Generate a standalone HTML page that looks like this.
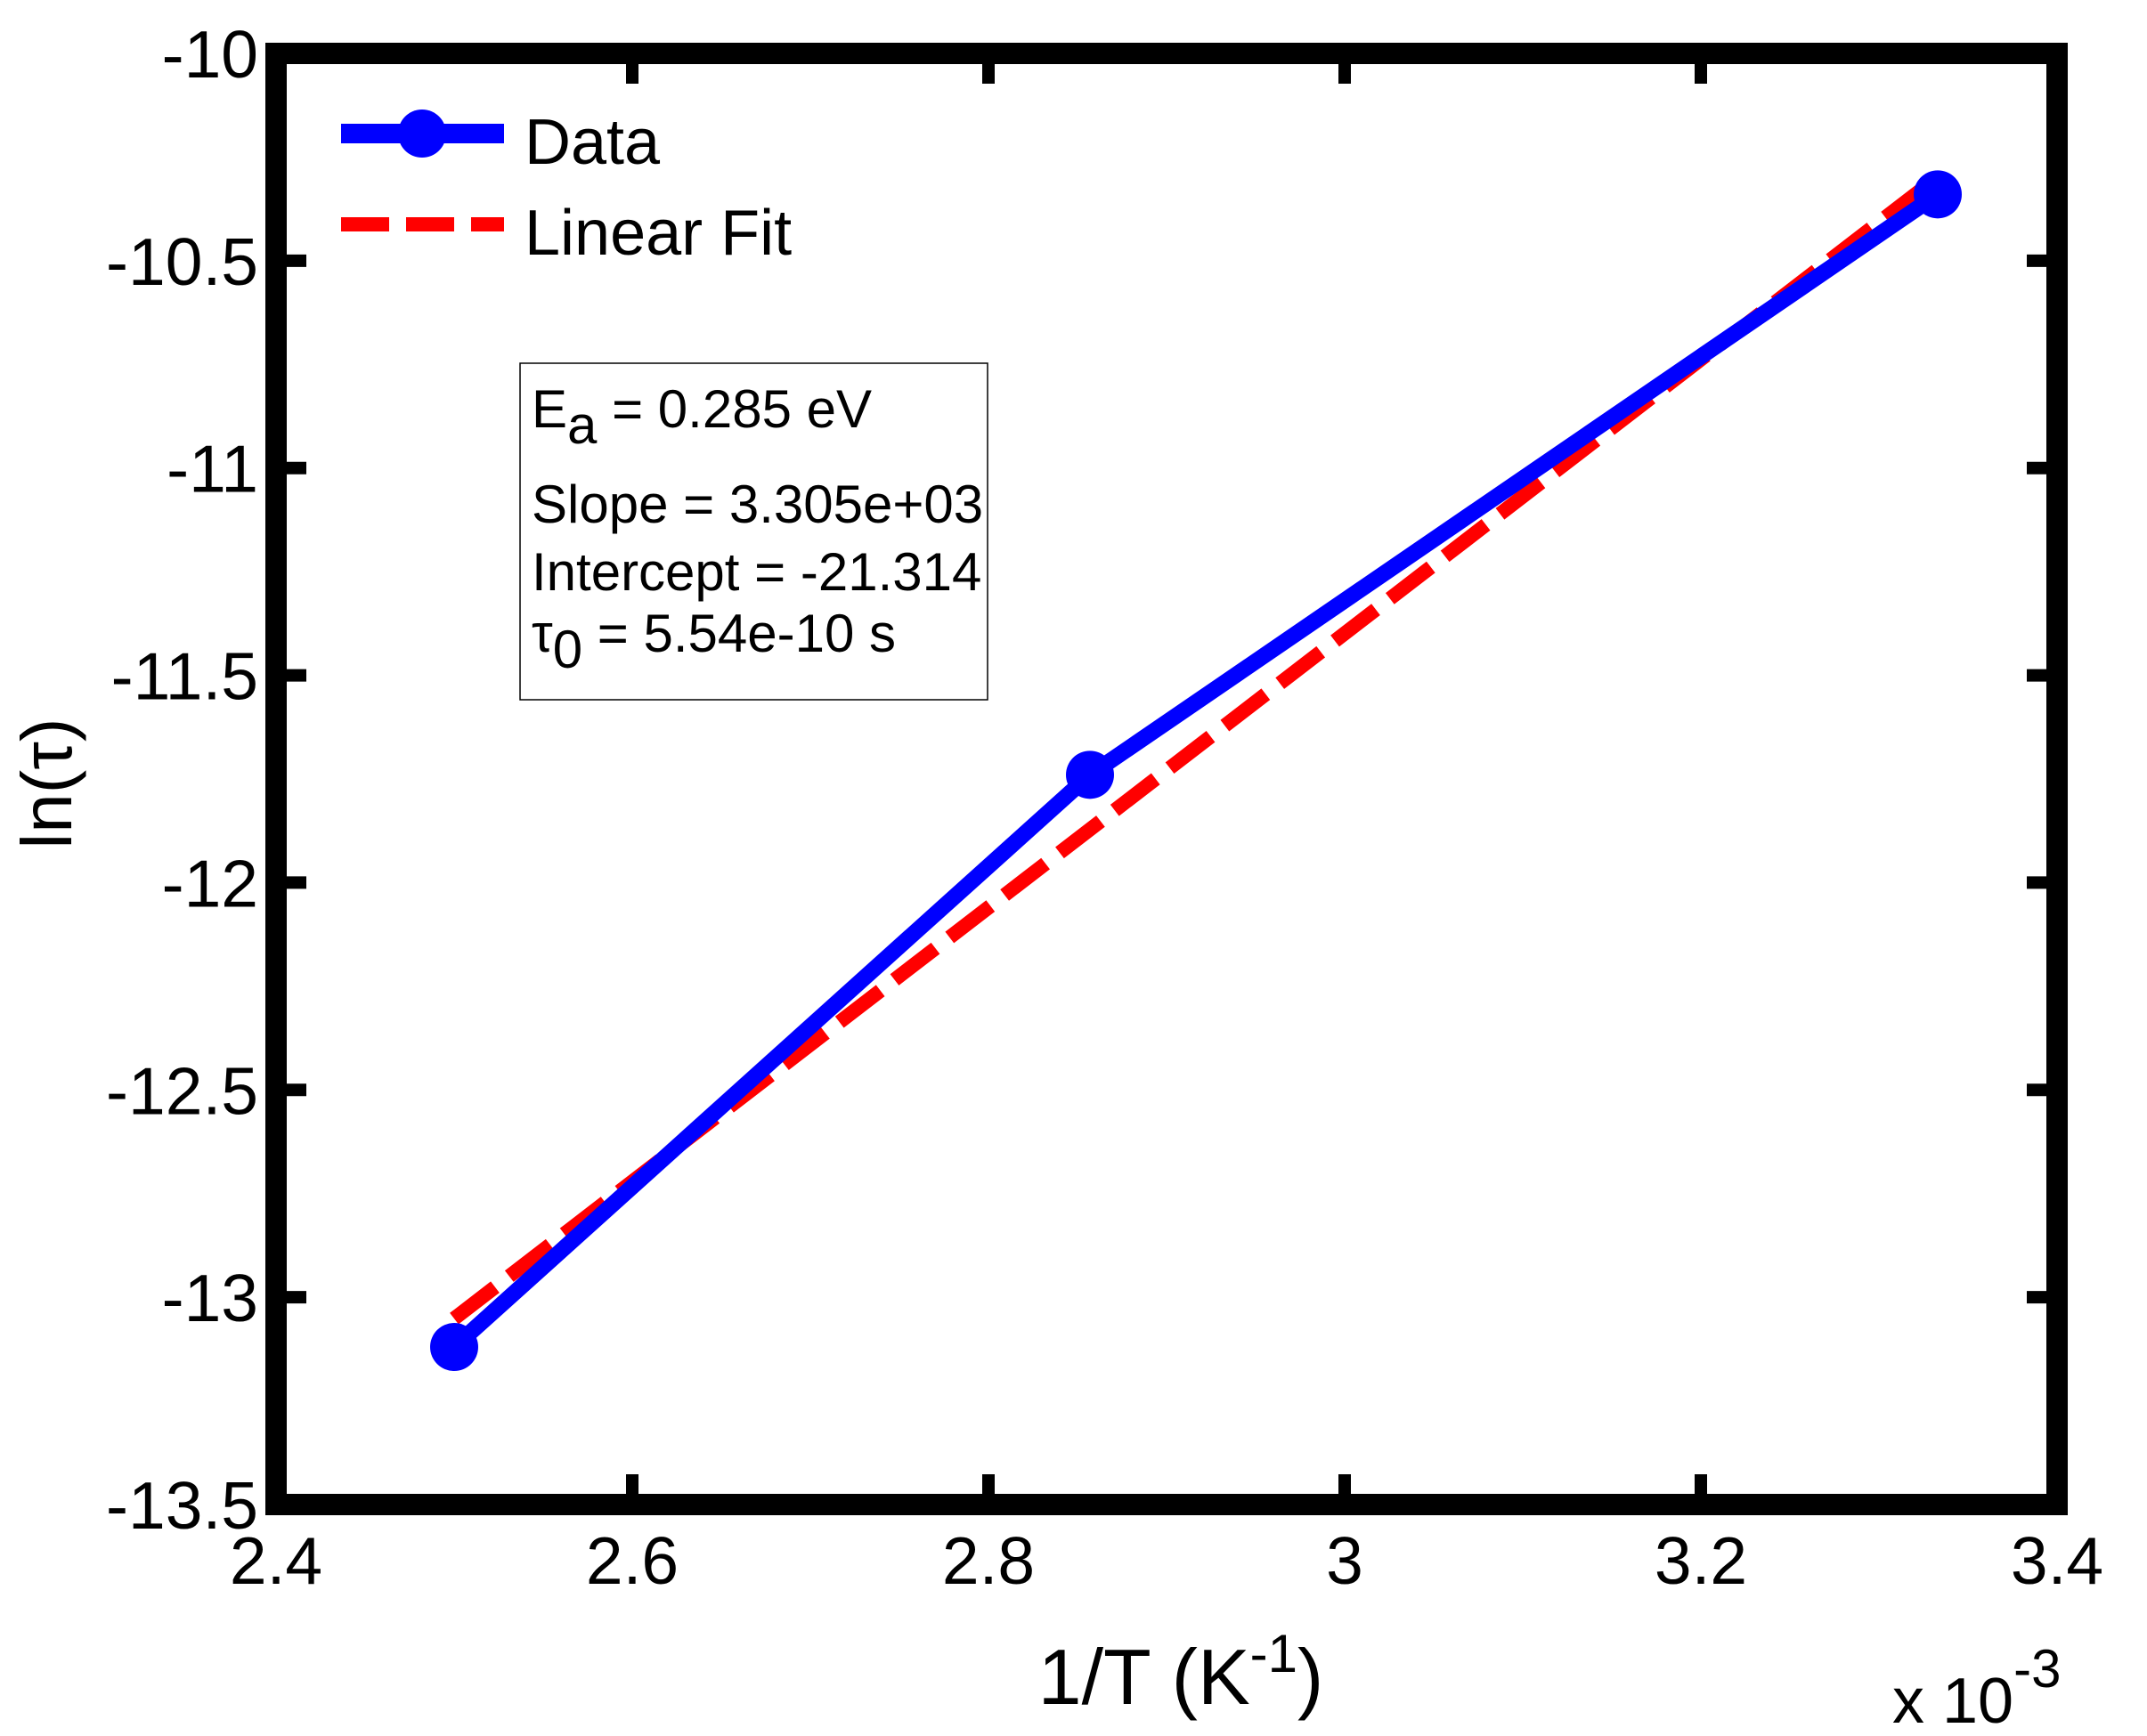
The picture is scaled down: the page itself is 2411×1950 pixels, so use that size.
<!DOCTYPE html>
<html><head><meta charset="utf-8"><style>
html,body{margin:0;padding:0;background:#fff;}
svg{display:block;font-family:"Liberation Sans",Arial,sans-serif;}
</style></head><body>
<svg id="chart" width="2411" height="1950" viewBox="0 0 2411 1950" xmlns="http://www.w3.org/2000/svg">
<rect width="2411" height="1950" fill="#fff"/>
<g id="plot"></g>
<g id="axes"></g>
<g>
  <line x1="383" y1="150" x2="566" y2="150" stroke="#0000ff" stroke-width="22"/>
  <circle cx="474" cy="150" r="27" fill="#0000ff"/>
  <text x="589" y="184" font-size="72">Data</text>
  <line x1="383" y1="252" x2="566" y2="252" stroke="#ff0000" stroke-width="16" stroke-dasharray="54,19"/>
  <text x="589" y="286" font-size="72">Linear Fit</text>
</g>
<g>
  <rect x="584" y="408" width="525" height="378" fill="#fff" stroke="#000" stroke-width="1.5"/>
  <text x="597" y="480" font-size="60">E<tspan dy="18">a</tspan><tspan dy="-18"> = 0.285 eV</tspan></text>
  <text x="597" y="587" font-size="60">Slope = 3.305e+03</text>
  <text x="597" y="663" font-size="60">Intercept = -21.314</text>
  <text x="597" y="732" font-size="60">τ<tspan dy="18">0</tspan><tspan dy="-18"> = 5.54e-10 s</tspan></text>
</g>
<text x="1326" y="1914" font-size="88" text-anchor="middle">1/T (K<tspan dy="-36" font-size="60">-1</tspan><tspan dy="36">)</tspan></text>
<text x="2125" y="1935" font-size="72">x 10<tspan dy="-40" font-size="60">-3</tspan></text>
<text transform="translate(80,880) rotate(-90)" font-size="80" text-anchor="middle">ln(τ)</text>
<script>
const xTicks=[2.4,2.6,2.8,3.0,3.2,3.4];
const xTickLabels=["2.4","2.6","2.8","3","3.2","3.4"];
const yTicks=[-10,-10.5,-11,-11.5,-12,-12.5,-13,-13.5];
const yTickLabels=["-10","-10.5","-11","-11.5","-12","-12.5","-13","-13.5"];
const dataX=[2.5,2.857,3.333];
const dataY=[-13.12,-11.74,-10.34];
const fitSlope=3.305;
const fitIntercept=-21.314;
const fitX=[2.5,3.333];

const L=310,R=2310,T=60,B=1690;
const xMin=2.4,xMax=3.4,yMin=-13.5,yMax=-10;
const sx=v=>L+(v-xMin)/(xMax-xMin)*(R-L);
const sy=v=>B-(v-yMin)/(yMax-yMin)*(B-T);
const NS="http://www.w3.org/2000/svg";
function mk(tag,attrs,parent){const e=document.createElementNS(NS,tag);for(const k in attrs)e.setAttribute(k,attrs[k]);parent.appendChild(e);return e;}
const plot=document.getElementById('plot'),axes=document.getElementById('axes');

const fit=mk('polyline',{points:fitX.map(x=>sx(x)+','+sy(fitSlope*x+fitIntercept)).join(' '),fill:'none',stroke:'#ff0000','stroke-width':16,'stroke-dasharray':'58,20'},plot);


const dl=mk('polyline',{points:dataX.map((x,i)=>sx(x)+','+sy(dataY[i])).join(' '),fill:'none',stroke:'#0000ff','stroke-width':18,'stroke-linejoin':'round'},plot);


dataX.forEach((x,i)=>{
  const c=mk('circle',{cx:sx(x),cy:sy(dataY[i]),r:27,fill:'#0000ff'},plot);
  
  
});

const frame=mk('rect',{x:L,y:T,width:R-L,height:B-T,fill:'none',stroke:'#000','stroke-width':24},axes);


xTicks.forEach((v,i)=>{
  const x=sx(v);
  mk('line',{x1:x,y1:B,x2:x,y2:B-34,stroke:'#000','stroke-width':14},axes);
  mk('line',{x1:x,y1:T,x2:x,y2:T+34,stroke:'#000','stroke-width':14},axes);
  const t=mk('text',{x:x,y:1779,'font-size':75,'text-anchor':'middle'},axes);
  t.textContent=xTickLabels[i];
  
  
});
yTicks.forEach((v,i)=>{
  const y=sy(v);
  mk('line',{x1:L,y1:y,x2:L+34,y2:y,stroke:'#000','stroke-width':14},axes);
  mk('line',{x1:R,y1:y,x2:R-34,y2:y,stroke:'#000','stroke-width':14},axes);
  const t=mk('text',{x:290,y:y+27,'font-size':75,'text-anchor':'end'},axes);
  t.textContent=yTickLabels[i];
  
  
});
</script>
</svg>
</body></html>
